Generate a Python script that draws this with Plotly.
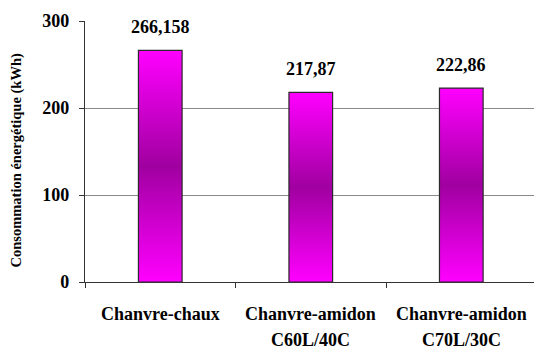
import plotly.graph_objects as go

categories = ["Chanvre-chaux", "Chanvre-amidon\nC60L/40C", "Chanvre-amidon\nC70L/30C"]
values = [266.158, 217.87, 222.86]
value_labels = ["266,158", "217,87", "222,86"]
y_ticks = [0, 100, 200, 300]
y_title = "Consommation énergétique (kWh)"

FONT = "Times New Roman, Liberation Serif, serif"
BAR_W = 0.29
grad = [[0, "#FF00FF"], [0.5, "#A000A0"], [1, "#FF00FF"]]

fig = go.Figure()
for i, v in enumerate(values):
    fig.add_trace(go.Scatter(
        x=[i - BAR_W / 2, i + BAR_W / 2, i + BAR_W / 2, i - BAR_W / 2, i - BAR_W / 2],
        y=[0, 0, v, v, 0],
        mode="lines", fill="toself",
        fillgradient=dict(type="vertical", colorscale=grad),
        line=dict(color="#2a2a2a", width=1.2),
        showlegend=False, hoverinfo="skip",
    ))

for i, (v, lab) in enumerate(zip(values, value_labels)):
    fig.add_annotation(
        x=i, y=v, xref="x", yref="y", yanchor="bottom", yshift=11,
        text="<b>%s</b>" % lab, showarrow=False,
        font=dict(family=FONT, size=18, color="black"),
    )

# category labels as annotations (two lines)
for i, c in enumerate(categories):
    for j, line in enumerate(c.split("\n")):
        fig.add_annotation(
            x=i, xref="x", y=0, yref="paper", yanchor="middle",
            yshift=-32 - 26 * j, text="<b>%s</b>" % line, showarrow=False,
            font=dict(family=FONT, size=18, color="black"),
        )

fig.add_annotation(
    x=0, xref="paper", xshift=-69, xanchor="center",
    y=0.5, yref="paper", yshift=-9, yanchor="middle",
    text="<b>%s</b>" % y_title, textangle=-90, showarrow=False,
    font=dict(family=FONT, size=14.5, color="black"),
)

fig.update_layout(
    width=534, height=349,
    margin=dict(l=85, r=0, t=21, b=67),
    paper_bgcolor="white", plot_bgcolor="white",
    font=dict(family=FONT, color="black"),
    xaxis=dict(
        range=[-0.5, 2.483], showgrid=False, zeroline=False,
        showticklabels=False, ticks="",
        showline=True, linecolor="#333", linewidth=1.2,
        minor=dict(tickmode="array", tickvals=[-0.5, 0.5, 1.5, 2.5],
                   ticks="outside", ticklen=5, tickcolor="#333", tickwidth=1.2),
    ),
    yaxis=dict(
        range=[0, 300], tickvals=y_ticks,
        ticktext=["<b>%d</b>" % t for t in y_ticks],
        tickfont=dict(family=FONT, size=18, color="black"),
        ticks="outside", ticklen=5, tickcolor="#333", tickwidth=1.2,
        showgrid=True, gridcolor="#8a8a8a", gridwidth=1,
        zeroline=False, showline=True, linecolor="#333", linewidth=1.2,
        ticklabelstandoff=6,
    ),
)

fig.write_html(
    "out.html",
    config={"displayModeBar": False},
    post_script="document.body.style.margin='0px';document.body.style.overflow='hidden';",
)
